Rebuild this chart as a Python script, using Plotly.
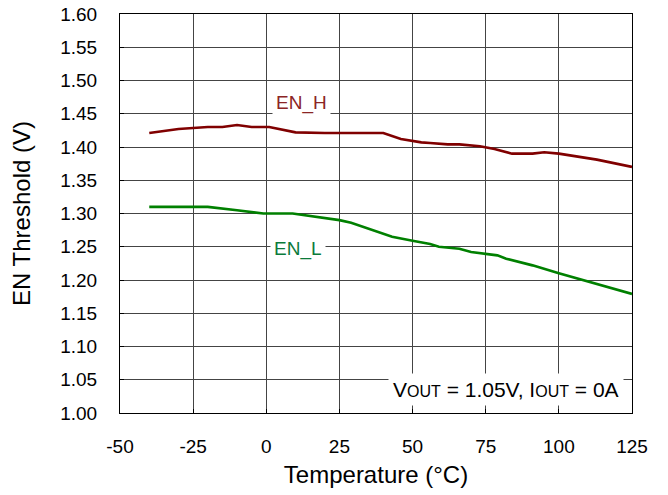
import plotly.graph_objects as go

# EN rising threshold (EN_H) vs temperature
temp_h = [-40, -30, -20, -15, -10, -5, 1, 6, 10, 20, 30, 40, 46, 50, 53, 56, 62, 66, 70, 73, 78, 84, 91, 95, 100, 113, 125]
en_h = [1.421, 1.427, 1.430, 1.430, 1.433, 1.430, 1.430, 1.426, 1.422, 1.421, 1.421, 1.421, 1.412, 1.409, 1.407, 1.406, 1.404, 1.404, 1.402, 1.401, 1.397, 1.390, 1.390, 1.392, 1.390, 1.381, 1.370]

# EN falling threshold (EN_L) vs temperature
temp_l = [-40, -30, -20, -10, -1, 9, 17, 25, 29, 37, 43, 50, 56, 59, 66, 70, 79, 82, 91, 100, 110, 125]
en_l = [1.310, 1.310, 1.310, 1.305, 1.300, 1.300, 1.295, 1.290, 1.286, 1.274, 1.265, 1.259, 1.254, 1.250, 1.247, 1.242, 1.237, 1.232, 1.222, 1.210, 1.198, 1.179]

x_ticks = [-50, -25, 0, 25, 50, 75, 100, 125]
y_ticks = [1.00, 1.05, 1.10, 1.15, 1.20, 1.25, 1.30, 1.35, 1.40, 1.45, 1.50, 1.55, 1.60]

FONT = "Liberation Sans, Arial, sans-serif"

fig = go.Figure()
fig.add_trace(go.Scatter(x=temp_h, y=en_h, mode="lines", name="EN_H",
                         line=dict(color="#800000", width=2.6)))
fig.add_trace(go.Scatter(x=temp_l, y=en_l, mode="lines", name="EN_L",
                         line=dict(color="#008000", width=2.6)))

fig.add_annotation(x=12, y=1.466, xref="x", yref="y", text="EN_H", showarrow=False,
                   font=dict(family=FONT, size=19, color="#8b2525"),
                   bgcolor="white", borderpad=3)
fig.add_annotation(x=11, y=1.247, xref="x", yref="y", text="EN_L", showarrow=False,
                   font=dict(family=FONT, size=19, color="#0b7a3a"),
                   bgcolor="white", borderpad=3)
fig.add_annotation(x=0.985, y=0.058, xref="paper", yref="paper", xanchor="right", yanchor="middle",
                   text="V<span style='font-size:16px'>OUT</span> = 1.05V, I<span style='font-size:16px'>OUT</span> = 0A",
                   showarrow=False, font=dict(family=FONT, size=21, color="black"),
                   bgcolor="white", borderpad=4)

axis_common = dict(showline=True, linecolor="black", linewidth=1, mirror=True,
                   showgrid=True, gridcolor="#444444", gridwidth=1,
                   ticks="inside", ticklen=4, tickcolor="black",
                   tickfont=dict(family=FONT, size=19, color="black"),
                   zeroline=False, automargin=False)

fig.update_xaxes(range=[-50, 125], tickvals=x_ticks, ticktext=[str(v) for v in x_ticks],
                 ticklabelstandoff=16,
                 title=dict(text="Temperature (°C)", font=dict(family=FONT, size=24, color="black"), standoff=10),
                 **axis_common)
fig.update_yaxes(range=[1.0, 1.6], tickvals=y_ticks, ticktext=[f"{v:.2f}" for v in y_ticks],
                 ticklabelstandoff=18,
                 title=dict(text="EN Threshold (V)", font=dict(family=FONT, size=24, color="black"), standoff=22),
                 **axis_common)

fig.update_layout(width=668, height=495, showlegend=False,
                  margin=dict(l=120, r=36, t=14, b=82),
                  plot_bgcolor="white", paper_bgcolor="white")

fig.write_html("out.html")
